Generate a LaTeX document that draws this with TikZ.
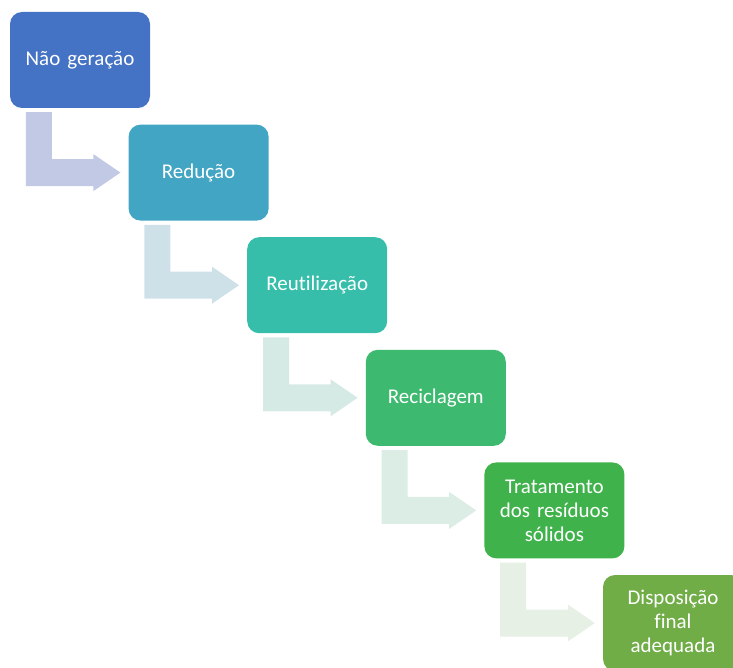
\documentclass[tikz,border=0pt]{standalone}
\usepackage{fontspec}
\setmainfont{Carlito}[Ligatures=NoCommon,WordSpace=0.85]
\usetikzlibrary{calc}

\definecolor{stepA}{RGB}{68,114,196}
\definecolor{stepB}{RGB}{66,165,196}
\definecolor{stepC}{RGB}{55,190,170}
\definecolor{stepD}{RGB}{62,185,112}
\definecolor{stepE}{RGB}{64,178,76}
\definecolor{stepF}{RGB}{112,173,71}
\definecolor{arrA}{RGB}{194,201,229}
\definecolor{arrB}{RGB}{206,224,232}
\definecolor{arrC}{RGB}{214,234,229}
\definecolor{arrD}{RGB}{219,237,228}
\definecolor{arrE}{RGB}{230,240,229}

\begin{document}
\begin{tikzpicture}
  [x=1pt,y=1pt,
   stepbox/.style={rounded corners=12pt,minimum width=140pt,minimum height=96pt,
     inner sep=0pt,text=white,align=center,text width=124pt,
     font=\fontsize{21}{24}\selectfont}]
  \useasboundingbox (0,0) rectangle (733,-668);
  \node[stepbox,fill=stepA] (n1) at (80,-60)     {Não geração};
  \node[stepbox,fill=stepB] (n2) at (198.6,-172.6) {Redução};
  \node[stepbox,fill=stepC] (n3) at (317.2,-285.2) {Reutilização};
  \node[stepbox,fill=stepD] (n4) at (435.8,-397.8) {Reciclagem};
  \node[stepbox,fill=stepE] (n5) at (554.4,-510.4) {Tratamento\\dos resíduos\\sólidos};
  \node[stepbox,fill=stepF] (n6) at (673,-623)   {Disposição\\final\\adequada};
  \foreach \from/\to/\col in {n1/n2/arrA,n2/n3/arrB,n3/n4/arrC,n4/n5/arrD,n5/n6/arrE}
  {
    \coordinate (p) at ($(\from.south west)+(16,-4)$);
    \coordinate (pr) at ($(p)+(26,0)$);
    \coordinate (q) at ($(\to.west)+(-8,0)$);
    \coordinate (qt) at ($(q)+(0,13.5)$);
    \coordinate (qb) at ($(q)+(0,-13.5)$);
    \fill[\col] (p) -- (pr) -- (pr |- qt) -- ($(q)+(-27,13.5)$) -- ($(q)+(-27,18.5)$)
      -- (q) -- ($(q)+(-27,-18.5)$) -- ($(q)+(-27,-13.5)$) -- (p |- qb) -- cycle;
  }
\end{tikzpicture}
\end{document}
